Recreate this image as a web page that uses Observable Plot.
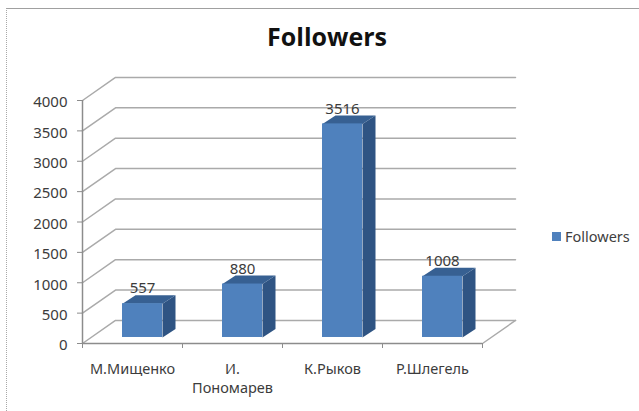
<!DOCTYPE html>
<html>
<head>
<meta charset="utf-8">
<script src="https://cdn.jsdelivr.net/npm/d3@7"></script>
<script src="https://cdn.jsdelivr.net/npm/@observablehq/plot@0.6"></script>
<style>
  html, body { margin: 0; padding: 0; background: #fff; }
  #wrap { position: relative; width: 639px; height: 411px; overflow: hidden; font-family: "Noto Sans", sans-serif; }
  #frame { position: absolute; left: 6px; top: 8px; right: -2px; bottom: -2px; border-top: 1px solid #a0a0a0; border-left: 1.5px dotted #a8a8a8; }
  #title { position: absolute; left: 0; width: 654px; top: 19px; text-align: center; font: bold 25px "Open Sans", sans-serif; color: #111; }
  #legend { position: absolute; left: 552px; top: 226px; font-size: 14.5px; line-height: 20px; color: #404040; display: flex; align-items: center; }
  #legend i { display: inline-block; width: 9px; height: 9px; background: #4f81bd; margin-right: 4px; }
  svg { position: absolute; left: 0; top: 0; background: transparent !important; }
</style>
</head>
<body>
<div id="wrap">
  <div id="frame"></div>
  <div id="title">Followers</div>
  <div id="legend"><i></i><span>Followers</span></div>
</div>
<script>
const names = ["М.Мищенко", "И.\nПономарев", "К.Рыков", "Р.Шлегель"];
const followers = [557, 880, 3516, 1008];
const yTicks = [0, 500, 1000, 1500, 2000, 2500, 3000, 3500, 4000];
const slotEdges = [0, 1, 2, 3, 4];
const slotCentres = [0.5, 1.5, 2.5, 3.5];

// oblique projection, in data units of the x and y scales
const wallDX = 0.33, wallDY = 379;      // depth of the floor / side wall
const barDX = 0.13, barDY = 140;        // depth of a bar
const barLift = 99;                     // bars stand on the floor, behind its front edge
const barL = 0.40, barR = 0.80;         // front face inside a slot

const gridColor = "#aaaaaa";
const front = "#4f81bd", side = "#2f5483", top_ = "#376092", ink = "#3c3c3c";

const gridRows = yTicks.flatMap(v => [
  {v, x: 0, y: v},
  {v, x: wallDX, y: v + wallDY},
  {v, x: 4 + wallDX, y: v + wallDY}
]);
const floorEdge = [
  {x: 4 + wallDX, y: wallDY},
  {x: 4, y: 0}
];
const bars = followers.map((v, i) => ({
  i, v,
  x1: i + barL, x2: i + barR,
  y1: barLift, y2: barLift + v
}));
const sideRows = bars.flatMap(b => [
  {i: b.i, x: b.x2, y: b.y1},
  {i: b.i, x: b.x2 + barDX, y: b.y1 + barDY},
  {i: b.i, x: b.x2 + barDX, y: b.y2 + barDY},
  {i: b.i, x: b.x2, y: b.y2}
]);
const topRows = bars.flatMap(b => [
  {i: b.i, x: b.x1, y: b.y2},
  {i: b.i, x: b.x1 + barDX, y: b.y2 + barDY},
  {i: b.i, x: b.x2 + barDX, y: b.y2 + barDY},
  {i: b.i, x: b.x2, y: b.y2}
]);

const chart = Plot.plot({
  width: 639, height: 411,
  marginLeft: 82, marginRight: 157, marginTop: 100, marginBottom: 68,
  x: {domain: [0, 4]},
  y: {domain: [0, 4000]},
  style: {fontFamily: '"Noto Sans", sans-serif', background: "transparent"},
  marks: [
    Plot.line(gridRows, {x: "x", y: "y", z: "v", stroke: gridColor, strokeWidth: 1.5}),
    Plot.line(floorEdge, {x: "x", y: "y", stroke: gridColor, strokeWidth: 1.5}),
    Plot.ruleX([0], {y1: 0, y2: 4000, stroke: "#8c8c8c", strokeWidth: 1.5}),
    Plot.ruleY([0], {x1: 0, x2: 4, stroke: "#8c8c8c", strokeWidth: 1.5}),
    Plot.axisY({ticks: yTicks, tickSize: 5, tickFormat: () => "", label: null, stroke: "#8c8c8c"}),
    Plot.axisY({ticks: yTicks, tickSize: 0, tickPadding: 15, label: null, fontSize: 15,
      dy: 2, fill: ink, tickFormat: d => String(d)}),
    Plot.axisX({ticks: slotEdges, tickSize: 5, tickFormat: () => "", label: null, stroke: "#8c8c8c"}),
    Plot.axisX({ticks: slotCentres, tickSize: 0, tickPadding: 17, label: null, fontSize: 14.5,
      lineHeight: 1.3, fill: ink, tickFormat: d => names[Math.floor(d)]}),
    Plot.line(sideRows, {x: "x", y: "y", z: "i", fill: side, stroke: "none"}),
    Plot.line(topRows, {x: "x", y: "y", z: "i", fill: top_, stroke: "none"}),
    Plot.rect(bars, {x1: "x1", x2: "x2", y1: "y1", y2: "y2", fill: front, inset: 0}),
    Plot.text(bars, {x: d => (d.x1 + d.x2) / 2, y: "y2", text: d => String(d.v), dy: -15,
      fontSize: 15, fill: ink})
  ]
});
document.getElementById("wrap").appendChild(chart);
</script>
</body>
</html>
